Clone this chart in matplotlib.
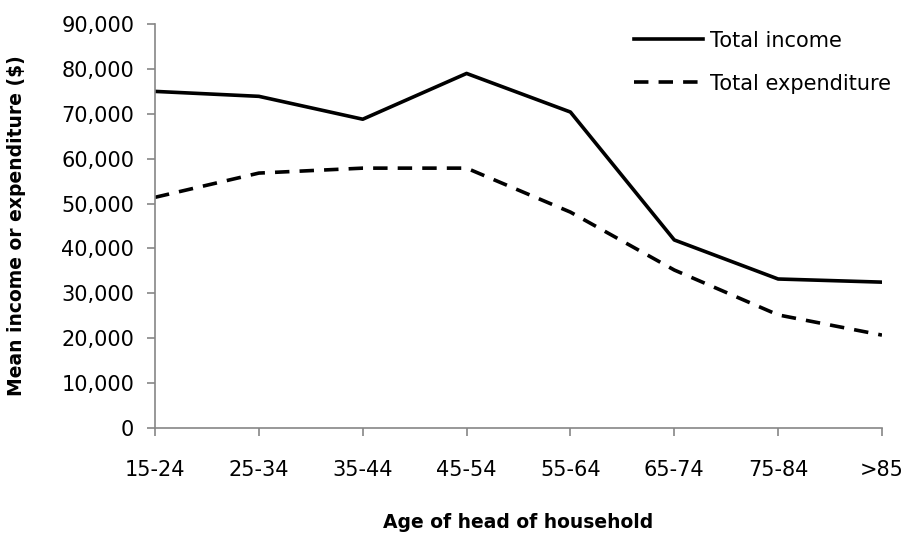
import numpy as np
import matplotlib
matplotlib.use("Agg")
import matplotlib.pyplot as plt
from matplotlib.ticker import FuncFormatter

plt.rcParams['font.family'] = ['DejaVu Sans']

# age groups and mean values ($)
ages = ["15-24", "25-34", "35-44", "45-54", "55-64", "65-74", "75-84", ">85"]
income = [75000, 73900, 68800, 79000, 70400, 41900, 33200, 32500]
expenditure = [51400, 56800, 57900, 57900, 48100, 35200, 25200, 20700]

fig = plt.figure(figsize=(9.03, 5.35), dpi=100)
ax = fig.add_axes([0.1717, 0.2, 0.805, 0.755])

x = np.arange(len(ages))
ax.plot(x, income, color="black", lw=2.6, label="Total income")
ax.plot(x, expenditure, color="black", lw=2.6, dashes=(4, 2.8), label="Total expenditure")

ax.set_xlim(0, len(ages) - 1)
ax.set_ylim(0, 90000)
ax.set_yticks(np.arange(0, 90001, 10000))
ax.yaxis.set_major_formatter(FuncFormatter(lambda v, p: f"{int(v):,}"))
ax.set_xticks(x)
ax.set_xticklabels(ages)

for s in ["top", "right"]:
    ax.spines[s].set_visible(False)
for s in ["left", "bottom"]:
    ax.spines[s].set_color("#868686")
    ax.spines[s].set_linewidth(1.2)
ax.tick_params(axis="both", colors="#868686", labelcolor="black", labelsize=15,
               length=6, width=1.2, direction="out")
ax.tick_params(axis="y", pad=9)
ax.tick_params(axis="x", pad=17)

ax.set_xlabel("Age of head of household", fontsize=13.5, fontweight="bold")
ax.set_ylabel("Mean income or expenditure ($)", fontsize=13.5, fontweight="bold")
ax.xaxis.set_label_coords(0.5, -0.21)
ax.yaxis.set_label_coords(-0.177, 0.5)

fig.legend(loc="upper left", bbox_to_anchor=(0.691, 0.962), frameon=False, fontsize=15,
           borderpad=0, labelspacing=1.1, handlelength=3.3, handletextpad=0.35)

fig.savefig("out.png", dpi=100)
